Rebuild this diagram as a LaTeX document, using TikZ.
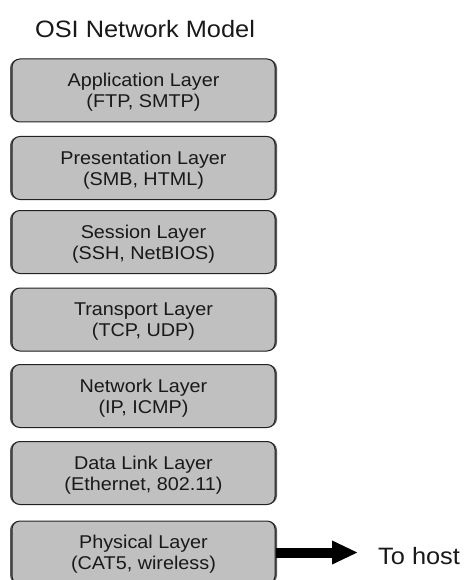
\documentclass[tikz,border=0pt]{standalone}
\usepackage{fontspec}
\setmainfont[FakeStretch=1.07]{Liberation Sans}
\usetikzlibrary{arrows.meta}
\definecolor{layerfill}{HTML}{C0C0C0}
\definecolor{layeredge}{HTML}{222222}
\definecolor{layershade}{HTML}{5A5A5A}
\tikzset{
  layer/.style={draw=layeredge, line width=1pt, fill=layerfill, rounded corners=8pt,
    minimum width=263pt, minimum height=63pt, inner sep=0pt},
  layertext/.style={inner sep=0pt, align=center,
    font=\fontsize{18.5}{21}\selectfont, text=black!90},
  layershadow/.style={fill=layershade, rounded corners=9pt, draw=none,
    minimum width=267pt, minimum height=63pt, inner sep=0pt},
  title/.style={font=\fontsize{23.7}{28}\selectfont, text=black!90, anchor=base, inner sep=0pt},
  hostlabel/.style={font=\fontsize{23.7}{28}\selectfont, text=black!90, anchor=base west, inner sep=0pt},
  toarrow/.style={line width=10pt, -{Triangle[length=26pt,width=22pt]}}
}
\begin{document}
\begin{tikzpicture}[x=1pt,y=-1pt]
  \useasboundingbox (0,0) rectangle (466,580);
  \clip (0,0) rectangle (466,580);

  % heading
  \node[title] (heading) at (145,38) {OSI Network Model};

  % the seven layers, top to bottom
  \foreach \name/\yc/\txt in {
      app/90.5/{Application Layer\\(FTP, SMTP)},
      pres/168/{Presentation Layer\\(SMB, HTML)},
      sess/242/{Session Layer\\(SSH, NetBIOS)},
      trans/319.5/{Transport Layer\\(TCP, UDP)},
      net/396/{Network Layer\\(IP, ICMP)},
      link/473/{Data Link Layer\\(Ethernet, 802.11)},
      phys/552.5/{Physical Layer\\(CAT5, wireless)}} {
    \node[layershadow] (\name-shadow) at (143.5,\yc) {};
    \node[layer] (\name) at (143.5,\yc) {};
    \node[layertext] (\name-text) at ([yshift=-2pt]\name.center) {\txt};
  }

  % link out of the physical layer
  \coordinate (hostend) at (358,552.5);
  \draw[toarrow] (phys.east) -- (hostend);
  \node[hostlabel] (host) at (378,564) {To host};
\end{tikzpicture}
\end{document}
